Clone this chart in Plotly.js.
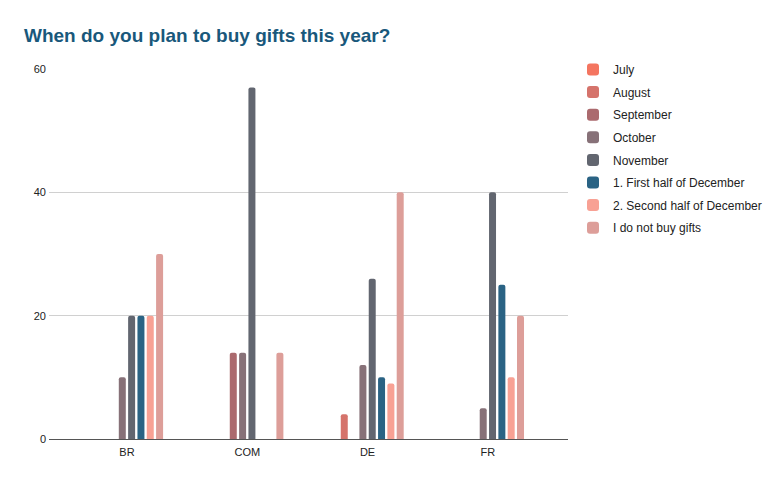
<!DOCTYPE html>
<html>
<head>
<meta charset="utf-8">
<script src="https://cdn.plot.ly/plotly-3.0.1.min.js"></script>
<style>html,body{margin:0;padding:0;background:#fff;}#chart{width:782px;height:483px;}</style>
</head>
<body>
<div id="chart"></div>
<script>
const categories = ["BR", "COM", "DE", "FR"];
const seriesNames = ["July", "August", "September", "October", "November",
  "1. First half of December", "2. Second half of December", "I do not buy gifts"];
const july      = [null, null, null, null];
const august    = [null, null, 4, null];
const september = [null, 14, null, null];
const october   = [10, 14, 12, 5];
const november  = [20, 57, 26, 40];
const decFirst  = [20, null, 10, 25];
const decSecond = [20, null, 9, 10];
const noGifts   = [30, 14, 40, 20];
const seriesValues = [july, august, september, october, november, decFirst, decSecond, noGifts];
const colors = ["#f47560", "#d5736b", "#ab6a6e", "#877178", "#626670", "#2a6384", "#f8a194", "#dd9e99"];
const yTicks = [0, 20, 40, 60];

const traces = seriesNames.map((name, i) => ({
  type: "bar",
  name: name,
  x: categories,
  y: seriesValues[i],
  legendgroup: "g" + i,
  marker: { color: colors[i], cornerradius: 2 },
  hoverinfo: "x+y+name"
}));

const layout = {
  width: 782, height: 483,
  paper_bgcolor: "#ffffff", plot_bgcolor: "#ffffff",
  margin: { l: 49, r: 214, t: 69, b: 44, autoexpand: false },
  font: { family: "Liberation Sans, Arial, sans-serif", size: 11, color: "#222" },
  title: {
    text: "<b>When do you plan to buy gifts this year?</b>",
    x: 24 / 782, xref: "container", xanchor: "left",
    y: 1 - 35 / 483, yref: "container", yanchor: "middle",
    font: { family: "Liberation Sans, Arial, sans-serif", size: 19, color: "#19587b" }
  },
  barmode: "group",
  bargap: 0.38,
  bargroupgap: 0.25,
  showlegend: true,
  legend: {
    xref: "container", yref: "container",
    x: 573 / 782, xanchor: "left", y: 1 - 55 / 483, yanchor: "top",
    font: { size: 12, color: "#222" },
    tracegroupgap: 3.6,
    traceorder: "grouped",
    itemwidth: 30
  },
  xaxis: {
    type: "category",
    range: [-0.648, 3.666],
    showgrid: false,
    showline: true, linecolor: "#555", linewidth: 1,
    ticks: "", tickfont: { size: 11, color: "#222" },
    ticklabelstandoff: 3,
    fixedrange: true
  },
  yaxis: {
    range: [0, 60],
    tickvals: yTicks,
    ticktext: yTicks.map(String),
    showgrid: true, gridcolor: "#d0d0d0", gridwidth: 1,
    zeroline: false, showline: false,
    ticks: "", tickfont: { size: 11, color: "#222" },
    ticklabelstandoff: 2,
    fixedrange: true
  }
};

Plotly.newPlot("chart", traces, layout, { displayModeBar: false, staticPlot: true });
</script>
</body>
</html>
